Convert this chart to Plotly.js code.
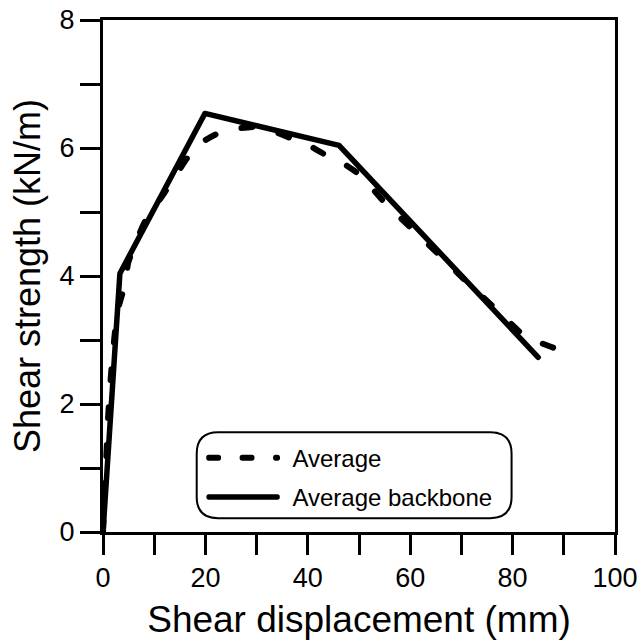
<!DOCTYPE html>
<html>
<head>
<meta charset="utf-8">
<script src="https://cdn.plot.ly/plotly-3.0.1.min.js"></script>
<style>
  html, body { margin: 0; padding: 0; background: #fff; }
  #chart { width: 643px; height: 641px; }
  .js-plotly-plot .scatterlayer .js-line,
  .js-plotly-plot .legendlines path { stroke-linecap: round; stroke-linejoin: round; }
  .js-plotly-plot .legendlines path { transform: scaleX(0.88); }
</style>
</head>
<body>
<div id="chart"></div>
<script>
// Average curve
var averageX = [0, 0.5, 1.0, 1.6, 2.3, 3.0, 3.7, 4.3, 4.9, 6.5, 8.2, 12, 16.6, 19.5, 22.5, 26, 29.6, 33, 36.8, 40, 43.3, 46.5, 50.2, 55, 60.3, 65.8, 71.0, 76.2, 81.8, 85, 87.6, 90.2];
var averageY = [0, 0.9, 1.8, 2.5, 3.1, 3.5, 3.7, 3.85, 4.2, 4.55, 4.85, 5.3, 5.86, 6.1, 6.23, 6.3, 6.33, 6.27, 6.15, 6.05, 5.9, 5.78, 5.58, 5.15, 4.74, 4.32, 3.91, 3.52, 3.10, 2.97, 2.89, 2.81];

// Average backbone (multilinear)
var backboneX = [0, 3.3, 19.9, 46.1, 85.0];
var backboneY = [0, 4.04, 6.54, 6.04, 2.73];

var seriesNames = ["Average", "Average backbone"];
var xTickVals = [0, 20, 40, 60, 80, 100];
var yTickVals = [0, 2, 4, 6, 8];

var FONT = "Liberation Sans, Arial, Helvetica, sans-serif";

var traces = [
  {
    x: averageX, y: averageY, name: seriesNames[0], mode: "lines",
    line: {color: "#000", width: 6, dash: "11px,27px", shape: "spline", smoothing: 0.4},
    legendgroup: "a"
  },
  {
    x: backboneX, y: backboneY, name: seriesNames[1], mode: "lines",
    line: {color: "#000", width: 5.5},
    legendgroup: "b"
  }
];

// rounded legend frame in paper coordinates
var bx0 = 0.183, bx1 = 0.798, by0 = 0.027, by1 = 0.195, r = 0.042;
var framePath = "M" + (bx0 + r) + "," + by0 +
  " L" + (bx1 - r) + "," + by0 + " Q" + bx1 + "," + by0 + " " + bx1 + "," + (by0 + r) +
  " L" + bx1 + "," + (by1 - r) + " Q" + bx1 + "," + by1 + " " + (bx1 - r) + "," + by1 +
  " L" + (bx0 + r) + "," + by1 + " Q" + bx0 + "," + by1 + " " + bx0 + "," + (by1 - r) +
  " L" + bx0 + "," + (by0 + r) + " Q" + bx0 + "," + by0 + " " + (bx0 + r) + "," + by0 + " Z";

var axisCommon = {
  showgrid: false, zeroline: false, showline: true, linecolor: "#000", linewidth: 3,
  mirror: true, ticks: "outside", ticklen: 20, tickwidth: 3, tickcolor: "#000",
  tickfont: {family: FONT, size: 27, color: "#000"}
};

var layout = {
  width: 643, height: 641,
  margin: {l: 103, r: 28, t: 20, b: 109},
  paper_bgcolor: "#fff", plot_bgcolor: "#fff",
  font: {family: FONT, color: "#000"},
  showlegend: true,
  legend: {
    x: 0.198, y: 0.188, xanchor: "left", yanchor: "top",
    bgcolor: "rgba(0,0,0,0)", borderwidth: 0,
    font: {family: FONT, size: 24, color: "#000"},
    itemwidth: 78, traceorder: "grouped", tracegroupgap: 5
  },
  xaxis: Object.assign({}, axisCommon, {
    range: [0, 100], tickmode: "array", tickvals: xTickVals,
    minor: {dtick: 10, ticks: "outside", ticklen: 20, tickwidth: 3, tickcolor: "#000", showgrid: false},
    title: {text: "Shear displacement (mm)", font: {family: FONT, size: 37, color: "#000"}, standoff: 14}
  }),
  yaxis: Object.assign({}, axisCommon, {
    range: [0, 8], tickmode: "array", tickvals: yTickVals,
    minor: {dtick: 1, ticks: "outside", ticklen: 20, tickwidth: 3, tickcolor: "#000", showgrid: false},
    title: {text: "Shear strength (kN/m)", font: {family: FONT, size: 36, color: "#000"}, standoff: 8}
  }),
  shapes: [{
    type: "path", xref: "paper", yref: "paper", path: framePath,
    line: {color: "#000", width: 2}, fillcolor: "rgba(0,0,0,0)", layer: "above"
  }]
};

Plotly.newPlot("chart", traces, layout, {displayModeBar: false, staticPlot: true});
</script>
</body>
</html>
